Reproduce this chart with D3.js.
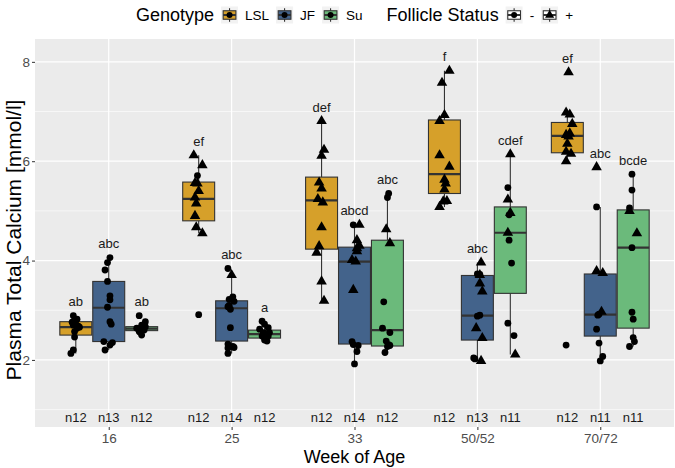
<!DOCTYPE html>
<html lang="en">
<head>
<meta charset="utf-8">
<title>Plasma Total Calcium</title>
<script src="https://cdn.jsdelivr.net/npm/d3@7/dist/d3.min.js"></script>
<style>
  body { margin: 0; background: #fff; }
  text { font-family: "Liberation Sans", Arial, sans-serif; }
</style>
</head>
<body>
<script>
var weeks = ["16", "25", "33", "50/52", "70/72"];
var genotypes = ["LSL", "JF", "Su"];
var genoFill = ["#D6A02A", "#43638B", "#6BBA7B"];
var follicle = ["-", "+"];

var nCounts = [["n12", "n13", "n12"], ["n12", "n14", "n12"], ["n12", "n14", "n12"], ["n12", "n13", "n11"], ["n12", "n11", "n11"]];
var sigLetters = [["ab", "abc", "ab"], ["ef", "abc", "a"], ["def", "abcd", "abc"], ["f", "abc", "cdef"], ["ef", "abc", "bcde"]];

// box stats per week: [lower whisker, q1, median, q3, upper whisker]
var boxLSL = [[2.13, 2.50, 2.66, 2.77, 2.89], [4.55, 4.80, 5.24, 5.58, 6.12], [3.19, 4.23, 5.21, 5.68, 6.81], [5.08, 5.35, 5.74, 6.83, 7.82], [6.00, 6.17, 6.51, 6.78, 6.97]];
var boxJF  = [[2.20, 2.37, 3.05, 3.58, 4.06], [2.13, 2.38, 3.04, 3.19, 3.71], [1.92, 2.32, 3.98, 4.27, 4.72], [1.98, 2.40, 2.89, 3.70, 3.96], [1.98, 2.48, 2.91, 3.73, 5.08]];
var boxSu  = [[2.55, 2.59, 2.63, 2.67, 2.72], [2.40, 2.44, 2.52, 2.60, 2.72], [2.15, 2.28, 2.60, 4.41, 5.35], [2.11, 3.34, 4.56, 5.08, 6.14], [2.27, 2.64, 4.26, 5.02, 5.74]];

// points per week: [calcium, follicle status, jitter (category units)]
var ptsLSL = [
  [[2.89,"-",-0.02],[2.82,"-",0.01],[2.76,"-",-0.03],[2.72,"-",0],[2.70,"-",-0.02],[2.68,"-",0.02],[2.66,"-",0.03],[2.64,"-",0.01],[2.57,"-",-0.01],[2.46,"-",-0.01],[2.20,"-",-0.02],[2.13,"-",-0.04]],
  [[6.12,"+",-0.04],[5.92,"+",0.03],[5.71,"-",-0.01],[5.56,"+",-0.03],[5.55,"+",-0.01],[5.40,"+",0],[5.27,"+",-0.03],[5.15,"+",-0.02],[4.90,"+",-0.03],[4.67,"+",-0.02],[4.55,"+",0.03],[2.91,"-",0]],
  [[6.81,"+",0],[6.23,"+",0.02],[6.11,"+",0],[5.57,"+",-0.02],[5.45,"+",0],[5.24,"+",-0.03],[5.17,"+",0.01],[4.67,"+",0],[4.29,"+",-0.02],[4.16,"+",-0.04],[3.58,"+",0],[3.19,"+",0.02]],
  [[7.82,"+",0.04],[7.58,"+",-0.02],[6.93,"+",0],[6.81,"+",-0.04],[6.12,"+",-0.04],[5.89,"+",0.04],[5.63,"+",0],[5.55,"+",0.01],[5.43,"+",0],[5.20,"+",0.02],[5.19,"+",-0.01],[5.08,"+",-0.04]],
  [[7.79,"+",0.01],[6.98,"+",-0.01],[6.94,"+",0.02],[6.75,"+",0.04],[6.56,"+",0.02],[6.53,"+",-0.01],[6.50,"+",0.01],[6.35,"+",0],[6.19,"+",-0.01],[6.15,"+",0.03],[6.00,"+",-0.01],[2.30,"-",-0.01]]
];
var ptsJF = [
  [[4.06,"-",0.01],[3.96,"-",-0.01],[3.81,"-",-0.03],[3.58,"-",-0.01],[3.29,"-",0.01],[3.21,"-",0.01],[3.06,"-",-0.01],[2.77,"-",0.01],[2.72,"-",0.02],[2.37,"-",-0.04],[2.35,"-",0.03],[2.30,"-",0.01],[2.20,"-",-0.03]],
  [[3.84,"-",-0.03],[3.71,"+",0],[3.27,"-",0.01],[3.22,"-",-0.02],[3.18,"-",0.02],[3.10,"-",-0.02],[3.07,"-",-0.03],[3.02,"-",-0.01],[2.65,"-",-0.01],[2.32,"-",-0.03],[2.27,"-",0.01],[2.25,"-",0.02],[2.24,"-",-0.03],[2.13,"-",-0.03]],
  [[4.72,"-",-0.01],[4.72,"+",0.04],[4.41,"+",0.02],[4.30,"+",0.04],[4.25,"+",0.02],[4.19,"+",0.02],[4.01,"+",-0.02],[3.98,"+",0.01],[3.41,"+",-0.01],[2.37,"-",-0.02],[2.31,"-",-0.01],[2.29,"-",0.03],[2.17,"-",0.02],[1.92,"-",0]],
  [[3.96,"+",0.03],[3.73,"-",0],[3.72,"-",0.02],[3.71,"+",0.02],[3.54,"+",0.02],[3.38,"+",0.04],[2.90,"-",0.02],[2.88,"-",0],[2.64,"+",-0.01],[2.44,"+",0.04],[2.04,"-",-0.03],[2.02,"-",-0.02],[1.98,"+",0.03]],
  [[5.88,"+",-0.03],[5.08,"-",-0.03],[3.79,"+",-0.03],[3.75,"+",0.02],[2.97,"+",0.01],[2.92,"-",-0.01],[2.90,"-",-0.02],[2.62,"-",-0.03],[2.34,"-",-0.01],[2.07,"-",0.02],[1.98,"-",0]]
];
var ptsSu = [
  [[2.89,"-",-0.02],[2.77,"-",0.03],[2.70,"-",0],[2.67,"-",0.03],[2.66,"-",0],[2.64,"-",-0.04],[2.63,"-",0.01],[2.62,"-",-0.02],[2.60,"-",0.02],[2.57,"-",-0.02],[2.55,"-",-0.01],[2.50,"-",0]],
  [[2.78,"-",-0.02],[2.72,"-",0],[2.65,"-",0.03],[2.62,"-",-0.04],[2.55,"-",-0.01],[2.55,"-",0.04],[2.52,"-",0.01],[2.48,"-",-0.02],[2.48,"-",0.03],[2.45,"-",0],[2.40,"-",0],[2.38,"-",0.02]],
  [[5.35,"-",0.01],[5.27,"-",0],[4.63,"+",-0.01],[4.35,"+",0.02],[3.17,"-",-0.03],[2.64,"-",-0.04],[2.55,"-",0.02],[2.38,"-",-0.01],[2.31,"-",0.01],[2.29,"-",0.02],[2.27,"-",0],[2.15,"-",-0.02]],
  [[6.14,"+",0],[5.47,"-",-0.02],[5.23,"+",-0.02],[4.96,"+",0],[4.92,"-",-0.01],[4.56,"+",-0.02],[4.41,"-",-0.01],[3.95,"-",0.01],[2.74,"-",-0.02],[2.49,"-",0.03],[2.11,"+",0.04]],
  [[5.74,"-",-0.01],[5.42,"-",-0.01],[5.06,"-",-0.03],[5.00,"+",-0.03],[4.55,"+",0.03],[4.26,"-",-0.01],[2.96,"-",-0.01],[2.82,"-",0],[2.45,"-",0],[2.37,"-",0.01],[2.27,"-",-0.03]]
];

var boxes = [boxLSL, boxJF, boxSu];
var points = [ptsLSL, ptsJF, ptsSu];

var width = 675, height = 468;
var panel = { left: 35, right: 674, top: 39, bottom: 427 };

var svg = d3.select("body").append("svg")
  .attr("width", width)
  .attr("height", height);

var x = d3.scalePoint().domain(weeks).range([panel.left, panel.right]).padding(0.6);
var step = x.step();
var dodge = d3.scaleBand().domain(genotypes).range([-0.398 * step, 0.398 * step]).paddingInner(0.03);
var bw = dodge.bandwidth();
var y = d3.scaleLinear().domain([0.65, 8.46]).range([panel.bottom, panel.top]);

// panel background + grid
svg.append("rect")
  .attr("x", panel.left).attr("y", panel.top)
  .attr("width", panel.right - panel.left).attr("height", panel.bottom - panel.top)
  .attr("fill", "#EBEBEB");

var grid = svg.append("g");
grid.selectAll(".minor").data([1, 3, 5, 7]).enter().append("line")
  .attr("x1", panel.left).attr("x2", panel.right)
  .attr("y1", function(d) { return y(d); }).attr("y2", function(d) { return y(d); })
  .attr("stroke", "#fff").attr("stroke-width", 0.6);
grid.selectAll(".major").data([2, 4, 6, 8]).enter().append("line")
  .attr("x1", panel.left).attr("x2", panel.right)
  .attr("y1", function(d) { return y(d); }).attr("y2", function(d) { return y(d); })
  .attr("stroke", "#fff").attr("stroke-width", 1.2);
grid.selectAll(".vert").data(weeks).enter().append("line")
  .attr("x1", function(d) { return x(d); }).attr("x2", function(d) { return x(d); })
  .attr("y1", panel.top).attr("y2", panel.bottom)
  .attr("stroke", "#fff").attr("stroke-width", 1.2);

// axes
var yAxis = svg.append("g")
  .attr("transform", "translate(" + panel.left + ",0)")
  .call(d3.axisLeft(y).tickValues([2, 4, 6, 8]).tickSize(3).tickPadding(2));
var xAxis = svg.append("g")
  .attr("transform", "translate(0," + panel.bottom + ")")
  .call(d3.axisBottom(x).tickSize(3).tickPadding(3));
[yAxis, xAxis].forEach(function(a) {
  a.select(".domain").remove();
  a.selectAll("line").attr("stroke", "#333");
  a.selectAll("text").attr("fill", "#4D4D4D").style("font-size", "13.5px")
    .style("font-family", "'Liberation Sans', Arial, sans-serif");
});

function tri(size) { return d3.symbol().type(d3.symbolTriangle).size(size)(); }

// boxes and points
weeks.forEach(function(w, wi) {
  genotypes.forEach(function(g, gi) {
    var b = boxes[gi][wi];
    var cx = x(w) + dodge(g) + bw / 2;
    var grp = svg.append("g");
    grp.append("line").attr("x1", cx).attr("x2", cx).attr("y1", y(b[0])).attr("y2", y(b[1]))
      .attr("stroke", "#333").attr("stroke-width", 1.1);
    grp.append("line").attr("x1", cx).attr("x2", cx).attr("y1", y(b[3])).attr("y2", y(b[4]))
      .attr("stroke", "#333").attr("stroke-width", 1.1);
    grp.append("rect")
      .attr("x", cx - bw / 2).attr("width", bw)
      .attr("y", y(b[3])).attr("height", y(b[1]) - y(b[3]))
      .attr("fill", genoFill[gi]).attr("stroke", "#333").attr("stroke-width", 1.1);
    grp.append("line").attr("x1", cx - bw / 2).attr("x2", cx + bw / 2)
      .attr("y1", y(b[2])).attr("y2", y(b[2]))
      .attr("stroke", "#333").attr("stroke-width", 2.2);
  });
});

weeks.forEach(function(w, wi) {
  genotypes.forEach(function(g, gi) {
    var pts = points[gi][wi];
    var cx = x(w) + dodge(g) + bw / 2;
    var grp = svg.append("g");
    grp.selectAll("circle").data(pts.filter(function(p) { return p[1] === "-"; })).enter()
      .append("circle")
      .attr("cx", function(p) { return cx + p[2] * step; })
      .attr("cy", function(p) { return y(p[0]); })
      .attr("r", 3.4).attr("fill", "#000");
    grp.selectAll("path").data(pts.filter(function(p) { return p[1] === "+"; })).enter()
      .append("path")
      .attr("d", tri(48))
      .attr("transform", function(p) { return "translate(" + (cx + p[2] * step) + "," + y(p[0]) + ")"; })
      .attr("fill", "#000");

    var top = d3.max(pts, function(p) { return p[0]; });
    svg.append("text")
      .attr("x", cx).attr("y", y(top + 0.28)).attr("dy", "0.35em")
      .attr("text-anchor", "middle").attr("fill", "#1a1a1a")
      .style("font-size", "13px").text(sigLetters[wi][gi]);
    svg.append("text")
      .attr("x", cx).attr("y", y(0.85)).attr("dy", "0.35em")
      .attr("text-anchor", "middle").attr("fill", "#1a1a1a")
      .style("font-size", "13px").text(nCounts[wi][gi]);
  });
});

// axis titles
svg.append("text")
  .attr("x", (panel.left + panel.right) / 2).attr("y", 463)
  .attr("text-anchor", "middle").attr("fill", "#000")
  .style("font-size", "18px").text("Week of Age");
svg.append("text")
  .attr("transform", "translate(21,240) rotate(-90)")
  .attr("text-anchor", "middle").attr("fill", "#000")
  .style("font-size", "21px").text("Plasma Total Calcium [mmol/l]");

// legend
var legend = svg.append("g");
var ly = 15, ks = 17;
var cursor = 0;

function addText(str, size) {
  var t = legend.append("text").attr("x", cursor).attr("y", ly).attr("dy", "0.35em")
    .style("font-size", size).attr("fill", "#000").text(str);
  cursor += t.node().getComputedTextLength();
}
function addKey(fill, shape) {
  var k = legend.append("g").attr("transform", "translate(" + cursor + "," + (ly - ks / 2) + ")");
  k.append("rect").attr("width", ks).attr("height", ks).attr("fill", "#F2F2F2");
  k.append("line").attr("x1", ks / 2).attr("x2", ks / 2).attr("y1", ks * 0.1).attr("y2", ks * 0.9)
    .attr("stroke", "#333").attr("stroke-width", 1.1);
  k.append("rect").attr("x", ks * 0.125).attr("y", ks * 0.25)
    .attr("width", ks * 0.75).attr("height", ks * 0.5)
    .attr("fill", fill).attr("stroke", "#333").attr("stroke-width", 1.1);
  k.append("line").attr("x1", ks * 0.125).attr("x2", ks * 0.875).attr("y1", ks / 2).attr("y2", ks / 2)
    .attr("stroke", "#333").attr("stroke-width", 2);
  if (shape === "+") {
    k.append("path").attr("d", tri(36)).attr("transform", "translate(" + ks / 2 + "," + ks / 2 + ")").attr("fill", "#000");
  } else {
    k.append("circle").attr("cx", ks / 2).attr("cy", ks / 2).attr("r", 3).attr("fill", "#000");
  }
  cursor += ks;
}

addText("Genotype", "18px");
genotypes.forEach(function(g, gi) {
  cursor += 7; addKey(genoFill[gi], "-");
  cursor += 7; addText(g, "13.5px");
});
cursor += 24;
addText("Follicle Status", "18px");
follicle.forEach(function(f) {
  cursor += 7; addKey("#fff", f);
  cursor += 7; addText(f, "13.5px");
});
legend.attr("transform", "translate(" + ((panel.left + panel.right) / 2 - cursor / 2) + ",0)");
</script>
</body>
</html>
